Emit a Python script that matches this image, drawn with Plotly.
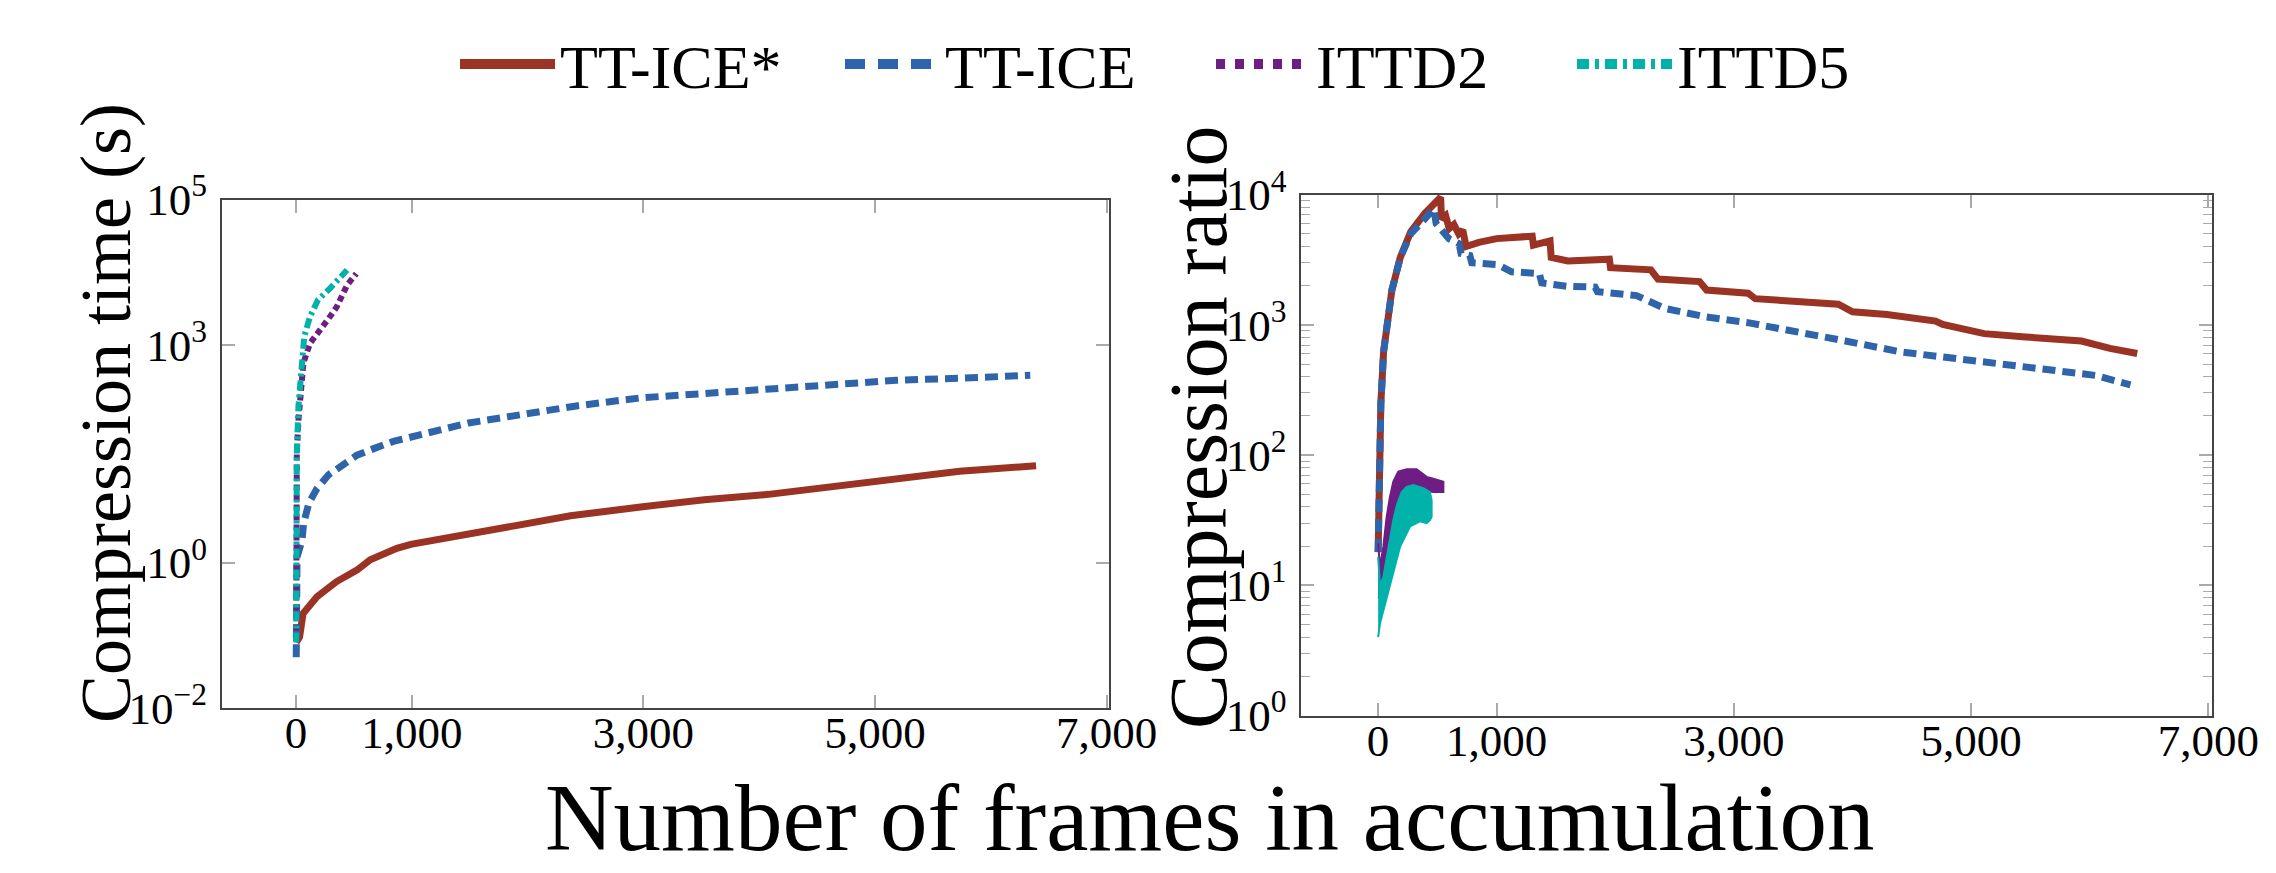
import plotly.graph_objects as go

# ---------------- data ----------------
frame_tickvals = [0, 1000, 3000, 5000, 7000]
frame_ticktext = ["0", "1,000", "3,000", "5,000", "7,000"]

time_tickvals = [0.01, 1, 1000, 100000]
time_ticktext = ["10<sup>−2</sup>", "10<sup>0</sup>", "10<sup>3</sup>", "10<sup>5</sup>"]

ratio_tickvals = [1, 10, 100, 1000, 10000]
ratio_ticktext = ["10<sup>0</sup>", "10<sup>1</sup>", "10<sup>2</sup>", "10<sup>3</sup>", "10<sup>4</sup>"]

# Compression time (s)
tticestar_time_x = [1, 30, 60, 180, 350, 525, 640, 755, 870, 990, 1430, 1870, 2370,
                    2975, 3525, 4080, 4630, 5070, 5730, 6390]
tticestar_time_y = [0.08, 0.095, 0.2, 0.34, 0.55, 0.79, 1.1, 1.35, 1.58, 1.79, 2.37, 3.15,
                    4.43, 5.86, 7.38, 8.73, 11.0, 13.7, 18.2, 21.6]

ttice_time_x = [1, 3, 8, 50, 65, 110, 180, 280, 410, 525, 670, 840, 1490, 1870, 2420,
                2975, 3525, 4080, 4630, 5180, 5730, 6340]
ttice_time_y = [0.05, 0.3, 1.2, 2.0, 3.5, 6.6, 10.5, 16.2, 23.4, 30.2, 37.2, 46.8, 84,
                105, 144, 186, 214, 245, 282, 324, 347, 380]

ittd2_time_x = [1, 2, 4, 6, 20, 35, 63, 120, 190, 280, 350, 440, 520]
ittd2_time_y = [0.085, 1.0, 6.3, 32, 91, 214, 562, 1050, 1450, 2290, 3310, 6610, 9550]

ittd5_time_x = [1, 2, 6, 20, 35, 50, 70, 120, 190, 295, 380, 440]
ittd5_time_y = [0.08, 1.35, 32, 141, 295, 692, 1290, 2450, 4170, 6030, 8710, 10700]

# Compression ratio
tticestar_ratio_x = [1, 12, 24, 47, 71, 117, 188, 276, 393, 528, 535, 570, 600, 640, 680,
                     715, 742, 850, 1000, 1125, 1300, 1310, 1450, 1460, 1600, 1950, 1960,
                     2300, 2360, 2710, 2770, 3120, 3180, 3880, 4000, 4290, 4700, 4760,
                     5110, 5460, 5930, 6170, 6400]
tticestar_ratio_y = [18, 90, 250, 622, 977, 1850, 3300, 5190, 7160, 9550, 6500, 6900, 5500,
                     5900, 5000, 5350, 4000, 4300, 4600, 4700, 4800, 4100, 4420, 3300, 3100,
                     3200, 2750, 2650, 2250, 2150, 1850, 1750, 1590, 1440, 1260, 1200, 1070,
                     1007, 857, 807, 752, 660, 603]

ttice_ratio_x = [1, 12, 24, 47, 71, 117, 188, 276, 393, 470, 490, 600, 684, 700, 774, 790,
                 1008, 1126, 1360, 1380, 1594, 1830, 1850, 2180, 2415, 2766, 3118, 3470,
                 3939, 4408, 4877, 5228, 5697, 6049, 6343]
ttice_ratio_y = [18, 90, 250, 622, 977, 1850, 3300, 5000, 6500, 7800, 6000, 4570, 4200,
                 3530, 3420, 3000, 2900, 2560, 2480, 2100, 1980, 1950, 1800, 1680, 1340,
                 1150, 1040, 915, 753, 620, 547, 497, 451, 409, 346]

ittd2_ratio_upper_x = [1, 17, 45, 73, 101, 129, 171, 242, 326, 410, 466, 551]
ittd2_ratio_upper_y = [21, 13.9, 19.8, 33.6, 48, 62.5, 74.6, 77.8, 77.8, 68, 66, 62.5]
ittd2_ratio_lower_x = [1, 45, 101, 171, 242, 326, 410, 466, 551]
ittd2_ratio_lower_y = [8, 8.7, 14, 30, 45, 52, 53, 52, 52]

ittd5_ratio_upper_x = [1, 17, 45, 87, 129, 158, 200, 242, 298, 382, 438, 452]
ittd5_ratio_upper_y = [16.6, 9.8, 11.6, 19.8, 31.6, 41, 52, 57, 59, 55.6, 52, 45]
ittd5_ratio_lower_x = [1, 17, 59, 115, 186, 270, 354, 410, 438, 452]
ittd5_ratio_lower_y = [4.0, 5.1, 6.9, 11, 19.8, 28.3, 31, 30, 31.6, 33.6]

names = ["TT-ICE*", "TT-ICE", "ITTD2", "ITTD5"]

# ---------------- styles ----------------
RED = "#9B3324"
BLUE = "#3064AA"
PURPLE = "#6E1E82"
TEAL = "#00B2AA"
FONT = "Liberation Serif"
colors = [RED, BLUE, PURPLE, TEAL]
plot_dash = ["solid", "13px,7px", "6px,4px", "10px,4px,3px,4px"]
plot_width = [7, 7, 6, 6]
legend_dash = ["solid", "20px,13px", "9px,10px", "12px,6px,4px,6px"]
legend_entry_width = [275, 261, 251, 200]
groups = ["a", "b", "c", "d"]

# the page body adds an 8 px offset; the figure is sized to fit the window
W, H = 2268, 865

fig = go.Figure()

# legend entries (no data, only the legend samples)
for i in range(4):
    fig.add_trace(go.Scatter(x=[None], y=[None], name=names[i], mode="lines",
                             line=dict(color=colors[i], width=12, dash=legend_dash[i]),
                             legendgroup=groups[i], legendwidth=legend_entry_width[i],
                             hoverinfo="skip", xaxis="x", yaxis="y"))

# left panel: compression time
time_x = [tticestar_time_x, ttice_time_x, ittd2_time_x, ittd5_time_x]
time_y = [tticestar_time_y, ttice_time_y, ittd2_time_y, ittd5_time_y]
for i in range(4):
    fig.add_trace(go.Scatter(x=time_x[i], y=time_y[i], name=names[i], mode="lines",
                             line=dict(color=colors[i], width=plot_width[i], dash=plot_dash[i]),
                             legendgroup=groups[i], showlegend=False, xaxis="x", yaxis="y"))

# right panel: compression ratio
fig.add_trace(go.Scatter(x=tticestar_ratio_x, y=tticestar_ratio_y, name=names[0], mode="lines",
                         line=dict(color=RED, width=7), legendgroup="a", showlegend=False,
                         xaxis="x2", yaxis="y2"))
fig.add_trace(go.Scatter(x=ttice_ratio_x, y=ttice_ratio_y, name=names[1], mode="lines",
                         line=dict(color=BLUE, width=7, dash="13px,7px"), legendgroup="b",
                         showlegend=False, xaxis="x2", yaxis="y2"))
fig.add_trace(go.Scatter(x=ittd2_ratio_upper_x + ittd2_ratio_lower_x[::-1],
                         y=ittd2_ratio_upper_y + ittd2_ratio_lower_y[::-1],
                         name=names[2], mode="lines", fill="toself", fillcolor=PURPLE,
                         line=dict(color=PURPLE, width=2), legendgroup="c", showlegend=False,
                         xaxis="x2", yaxis="y2"))
fig.add_trace(go.Scatter(x=ittd5_ratio_upper_x + ittd5_ratio_lower_x[::-1],
                         y=ittd5_ratio_upper_y + ittd5_ratio_lower_y[::-1],
                         name=names[3], mode="lines", fill="toself", fillcolor=TEAL,
                         line=dict(color=TEAL, width=2), legendgroup="d", showlegend=False,
                         xaxis="x2", yaxis="y2"))

axis_common = dict(showline=True, linecolor="#444444", linewidth=2, mirror="ticks",
                   ticks="inside", ticklen=13, tickwidth=1.5, tickcolor="#aaaaaa",
                   showgrid=False, zeroline=False, automargin=False,
                   tickfont=dict(family=FONT, size=45, color="black"))

minor_ratio = [m * 10 ** d for d in range(4) for m in range(2, 10)]

fig.update_layout(
    width=W, height=H,
    paper_bgcolor="white", plot_bgcolor="white",
    margin=dict(l=0, r=0, t=0, b=0, autoexpand=False),
    font=dict(family=FONT, color="black"),
    showlegend=True,
    legend=dict(orientation="h", x=0.1971, xanchor="left", y=0.935, yanchor="middle",
                font=dict(family=FONT, size=62), itemwidth=95, traceorder="normal",
                bgcolor="rgba(0,0,0,0)"),
    xaxis=dict(domain=[0.09436, 0.48545], range=[-640, 7020], anchor="y",
               tickmode="array", tickvals=frame_tickvals, ticktext=frame_ticktext,
               ticklabelstandoff=-16, **axis_common),
    yaxis=dict(domain=[0.19075, 0.77861], type="log", range=[-2, 5], anchor="x",
               tickmode="array", tickvals=time_tickvals, ticktext=time_ticktext,
               ticklabelstandoff=4, **axis_common),
    xaxis2=dict(domain=[0.57032, 0.97178], range=[-645, 7030], anchor="y2",
                tickmode="array", tickvals=frame_tickvals, ticktext=frame_ticktext,
                ticklabelstandoff=-16, **axis_common),
    yaxis2=dict(domain=[0.18208, 0.78416], type="log", range=[0, 4], anchor="x2",
                tickmode="array", tickvals=ratio_tickvals, ticktext=ratio_ticktext,
                ticklabelstandoff=4,
                minor=dict(tickmode="array", tickvals=minor_ratio, ticks="inside",
                           ticklen=9, tickcolor="#aaaaaa", tickwidth=1.2, showgrid=False),
                **axis_common),
    annotations=[
        dict(text="Number of frames in accumulation", xref="paper", yref="paper",
             x=0.52998, y=0.0636, xanchor="center", yanchor="middle",
             showarrow=False, font=dict(family=FONT, size=95, color="black")),
        dict(text="Compression time (s)", xref="paper", yref="paper",
             x=0.0432, y=0.5318, xanchor="center", yanchor="middle", textangle=-90,
             showarrow=False, font=dict(family=FONT, size=72, color="black")),
        dict(text="Compression ratio", xref="paper", yref="paper",
             x=0.5247, y=0.5156, xanchor="center", yanchor="middle", textangle=-90,
             showarrow=False, font=dict(family=FONT, size=82, color="black")),
    ],
)

fig.write_html("out.html")
